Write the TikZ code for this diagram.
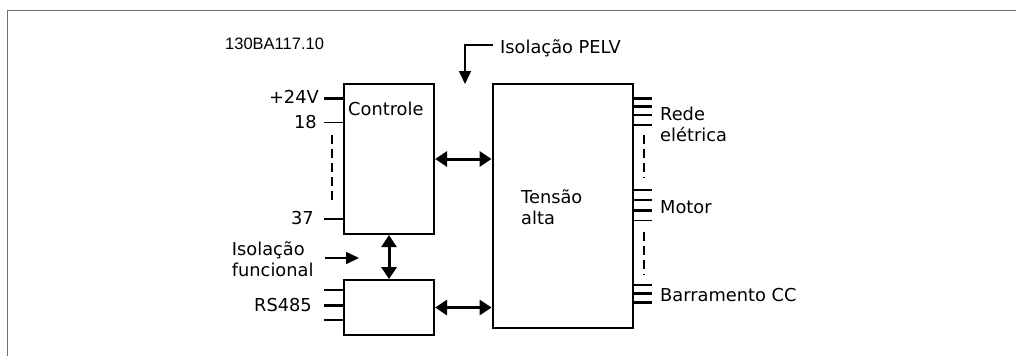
\documentclass[tikz,border=0pt]{standalone}
\usepackage{fontspec}
\setmainfont{DejaVu Sans}
\newfontfamily\codefont{Liberation Sans}
\usetikzlibrary{arrows.meta,positioning}
\definecolor{framegray}{HTML}{707070}

\begin{document}
\begin{tikzpicture}[
  x=1pt, y=-1pt,
  box/.style={draw, line width=2.2pt, minimum width=90pt, inner sep=0pt},
  lbl/.style={font=\fontsize{17.8}{21}\selectfont, inner sep=0pt},
  pin/.style={line width=1.5pt},
  bigpin/.style={line width=2.8pt},
  dashline/.style={dash pattern=on 9pt off 5pt, line width=1.8pt},
  dbl/.style={{Triangle[length=12pt,width=15pt]}-{Triangle[length=12pt,width=15pt]}, line width=3pt},
  arr/.style={-{Triangle[length=13pt,width=12pt]}, line width=1.6pt},
]
\useasboundingbox (0,0) rectangle (1016,356);
\draw[framegray, line width=1.8pt] (1016,10.5) -| (7.5,356);

% blocks
\node[box, minimum height=150pt] (ctrl) at (389,159) {};
\node[box, minimum height=54.7pt, below=44pt of ctrl] (rs) {};
\node[box, minimum width=140pt, minimum height=244pt] (hv) at (562.7,206) {};

\node[lbl, anchor=base west] (ctrltxt) at (348,115) {Controle};
\node[lbl, anchor=north west, align=left] (hvtxt) at (521,189) {Tensão\\alta};
\node[font=\codefont\fontsize{16.5}{19}\selectfont, inner sep=0pt, anchor=base west] (code) at (225,49) {130BA117.10};

% terminals, control side
\foreach \y/\w in {98.7/bigpin, 122.7/pin, 219/pin, 290/bigpin, 305.7/bigpin, 320/bigpin}
  \draw[\w] (ctrl.west |- 0,\y) -- ++(-19,0);
\node[lbl, anchor=base east] (p24) at (319,103) {+24V};
\node[lbl, anchor=base east] (p18) at (317,128) {18};
\node[lbl, anchor=base east] (p37) at (314,224) {37};
\node[lbl, anchor=base east] (rstxt) at (312,311.7) {RS485};
\draw[dashline] (332,135) -- (332,203);

% terminals, power side
\foreach \y/\w in {98.3/bigpin, 106.7/bigpin, 115/bigpin, 125/bigpin,
                   190/pin, 200/bigpin, 210.7/bigpin, 220.7/pin,
                   285/bigpin, 293.3/bigpin, 302.3/bigpin}
  \draw[\w] (hv.east |- 0,\y) -- ++(18,0);
\draw[dashline, line width=2.2pt] (644,135) -- (644,178);
\draw[dashline, line width=2.2pt] (644,231.7) -- (644,275);
\node[lbl, anchor=north west, align=left] (mains) at (660,107) {Rede\\elétrica};
\node[lbl, anchor=base west] (motor) at (660,213.3) {Motor};
\node[lbl, anchor=base west] (dcbus) at (660,301.7) {Barramento CC};

% isolation marks
\node[lbl, anchor=base west] (pelv) at (500,53) {Isolação PELV};
\coordinate (pelvstart) at (493,45);
\coordinate (pelvtip) at (465,84);
\draw[arr] (pelvstart) -| (pelvtip);
\node[lbl, anchor=north west, align=left] (func) at (231.7,241) {Isolação\\funcional};
\coordinate (funcstart) at (325,258);
\coordinate (functip) at (359,258);
\draw[arr] (funcstart) -- (functip);

% links
\draw[dbl] (ctrl.east) -- (ctrl.east -| hv.west);
\draw[dbl] (ctrl.south) -- (rs.north);
\draw[dbl] (rs.east) -- (rs.east -| hv.west);
\end{tikzpicture}
\end{document}
